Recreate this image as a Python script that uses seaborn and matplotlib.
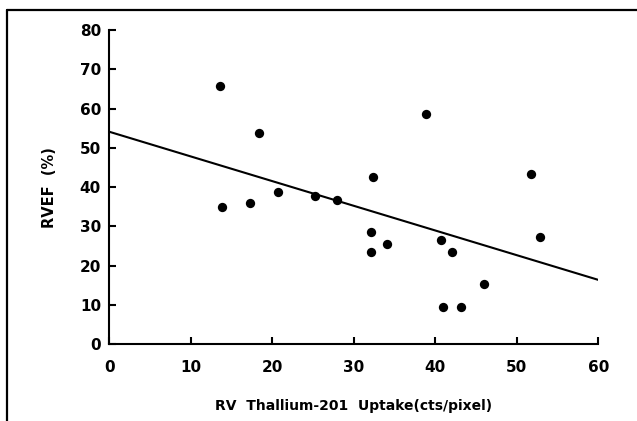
import matplotlib
matplotlib.use("Agg")
import matplotlib.pyplot as plt
import seaborn as sns
import pandas as pd
from matplotlib.lines import Line2D

# Data
uptake = [13.6, 18.4, 13.8, 17.3, 20.7, 25.3, 28.0, 32.4, 38.9, 51.8,
          32.1, 32.1, 34.1, 40.7, 42.1, 46.0, 41.0, 43.2, 52.9]
rvef = [65.8, 53.7, 34.9, 35.9, 38.7, 37.7, 36.7, 42.5, 58.5, 43.3,
        28.6, 23.6, 25.5, 26.5, 23.4, 15.3, 9.5, 9.5, 27.4]
fit_x = [0, 60]
fit_y = [54.1, 16.4]
x_ticks = [0, 10, 20, 30, 40, 50, 60]
y_ticks = [0, 10, 20, 30, 40, 50, 60, 70, 80]

df = pd.DataFrame({"uptake": uptake, "rvef": rvef})
fit = pd.DataFrame({"x": fit_x, "y": fit_y})

sns.set_style("ticks")
plt.rcParams["font.family"] = ["DejaVu Sans"]
plt.rcParams["text.color"] = "black"
plt.rcParams["axes.labelcolor"] = "black"
plt.rcParams["xtick.color"] = "black"
plt.rcParams["ytick.color"] = "black"

W, H = 637, 421
fig = plt.figure(figsize=(W / 100, H / 100), dpi=100)
ax = fig.add_axes([109.3 / W, 1 - 344.3 / H, (598.3 - 109.3) / W, (344.3 - 30) / H])

sns.lineplot(data=fit, x="x", y="y", ax=ax, color="black", linewidth=1.5)
sns.scatterplot(data=df, x="uptake", y="rvef", ax=ax, color="black",
                s=45, edgecolor="black", linewidth=0, zorder=3)

ax.set_xlim(0, 60)
ax.set_ylim(0, 80)
ax.set_xticks(x_ticks)
ax.set_yticks(y_ticks)
ax.set_xticklabels([str(v) for v in x_ticks], fontsize=11, fontweight="bold", color="black")
ax.set_yticklabels([str(v) for v in y_ticks], fontsize=11, fontweight="bold", color="black")
ax.tick_params(axis="x", direction="in", length=5, width=1.5, pad=11, colors="black")
ax.tick_params(axis="y", direction="in", length=5, width=1.5, pad=6, colors="black")

for side in ["top", "right"]:
    ax.spines[side].set_visible(False)
for side in ["left", "bottom"]:
    ax.spines[side].set_linewidth(1.5)
    ax.spines[side].set_color("black")

ax.set_xlabel("RV  Thallium-201  Uptake(cts/pixel)", fontsize=10, fontweight="bold", color="black")
ax.set_ylabel("RVEF  (%)", fontsize=10.5, fontweight="bold", color="black")
ax.xaxis.set_label_coords(0.5, -0.174)
ax.yaxis.set_label_coords(-0.107, 0.5)

# Outer frame lines (left and top)
fig.add_artist(Line2D([7 / W, 7 / W], [0, 1 - 10 / H], transform=fig.transFigure,
                      color="black", linewidth=1.6))
fig.add_artist(Line2D([7 / W, 1], [1 - 10 / H, 1 - 10 / H], transform=fig.transFigure,
                      color="black", linewidth=1.6))

fig.savefig("out.png", dpi=100, facecolor="white")
